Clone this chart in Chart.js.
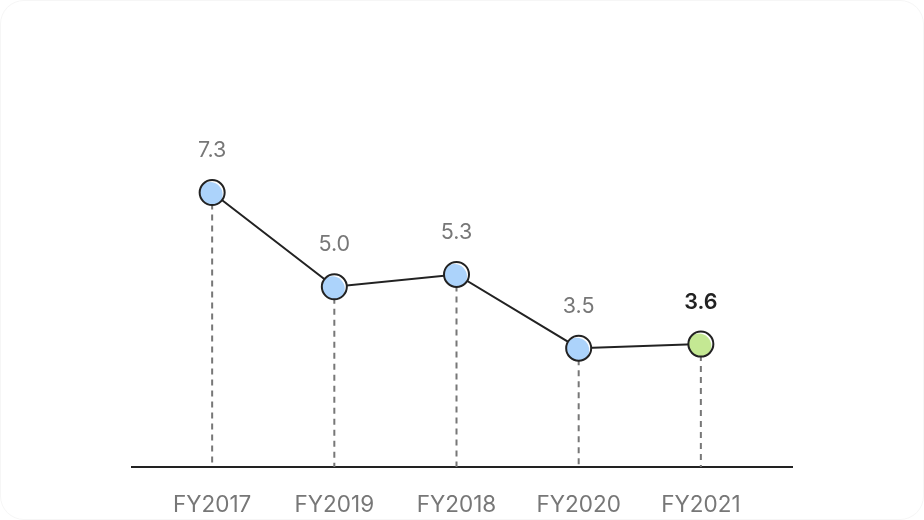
<!DOCTYPE html>
<html lang="en">
<head>
  <meta charset="UTF-8" />
  <title>FY values</title>
  <script src="https://cdn.jsdelivr.net/npm/chart.js"></script>
  <style>
    html, body { margin: 0; padding: 0; background: #fff; }
    #wrap {
      width: 922px; height: 518px;
      border: 1px solid #f6f6f6; border-radius: 24px;
      overflow: hidden; background: #fff;
    }
  </style>
</head>
<body>
  <div id="wrap"><canvas id="chart" width="922" height="518"></canvas></div>

  <script>
    // data
    const years = ['FY2017', 'FY2019', 'FY2018', 'FY2020', 'FY2021'];
    const values = [7.3, 5.0, 5.3, 3.5, 3.6];
    const highlightIndex = 4;

    const blue = '#acd3fb';
    const green = '#c4e893';

    // dashed drop lines from each point down to the axis
    const dropLines = {
      id: 'dropLines',
      beforeDatasetsDraw(chart) {
        const { ctx, chartArea } = chart;
        const pts = chart.getDatasetMeta(0).data;
        ctx.save();
        ctx.strokeStyle = '#777';
        ctx.lineWidth = 2;
        ctx.setLineDash([6, 5]);
        pts.forEach(p => {
          ctx.beginPath();
          ctx.moveTo(p.x, p.y);
          ctx.lineTo(p.x, chartArea.bottom);
          ctx.stroke();
        });
        ctx.restore();
      }
    };

    // colored fill with a little white highlight + value labels
    const pointDeco = {
      id: 'pointDeco',
      afterDatasetsDraw(chart) {
        const { ctx } = chart;
        const pts = chart.getDatasetMeta(0).data;
        const r = 12.5;
        pts.forEach((p, i) => {
          ctx.save();
          ctx.beginPath();
          ctx.arc(p.x, p.y, r, 0, Math.PI * 2);
          ctx.fillStyle = '#fff';
          ctx.fill();
          ctx.clip();
          ctx.beginPath();
          ctx.arc(p.x - 2, p.y + 2, r, 0, Math.PI * 2);
          ctx.fillStyle = i === highlightIndex ? green : blue;
          ctx.fill();
          ctx.restore();

          ctx.save();
          ctx.beginPath();
          ctx.arc(p.x, p.y, r, 0, Math.PI * 2);
          ctx.strokeStyle = '#222';
          ctx.lineWidth = 2;
          ctx.stroke();

          const hi = i === highlightIndex;
          ctx.font = (hi ? '600 ' : '400 ') + '21.5px Inter, sans-serif';
          ctx.fillStyle = hi ? '#222' : '#777';
          ctx.textAlign = 'center';
          ctx.textBaseline = 'middle';
          ctx.fillText(values[i].toFixed(1), p.x, p.y - 42);
          ctx.restore();
        });
      }
    };

    new Chart(document.getElementById('chart'), {
      type: 'line',
      data: {
        datasets: [{
          data: values.map((v, i) => ({ x: i, y: v })),
          borderColor: '#222',
          borderWidth: 2,
          tension: 0,
          pointRadius: 0,
          pointHoverRadius: 0
        }]
      },
      options: {
        responsive: false,
        animation: false,
        events: [],
        layout: { padding: { left: 131, right: 131, top: 40, bottom: 0 } },
        plugins: { legend: { display: false }, tooltip: { enabled: false } },
        scales: {
          x: {
            type: 'linear',
            min: -0.656,
            max: 4.746,
            afterBuildTicks(axis) {
              axis.ticks = years.map((_, i) => ({ value: i }));
            },
            afterFit(axis) { axis.height = 52; },
            ticks: {
              autoSkip: false,
              maxRotation: 0,
              padding: 25,
              color: '#777',
              font: { family: 'Inter, sans-serif', size: 22.5 },
              callback: v => years[v]
            },
            grid: { display: false, drawTicks: false },
            border: { display: true, color: '#222', width: 2 }
          },
          y: {
            display: false,
            min: 0.6,
            max: 11.0
          }
        }
      },
      plugins: [dropLines, pointDeco]
    });
  </script>
</body>
</html>
